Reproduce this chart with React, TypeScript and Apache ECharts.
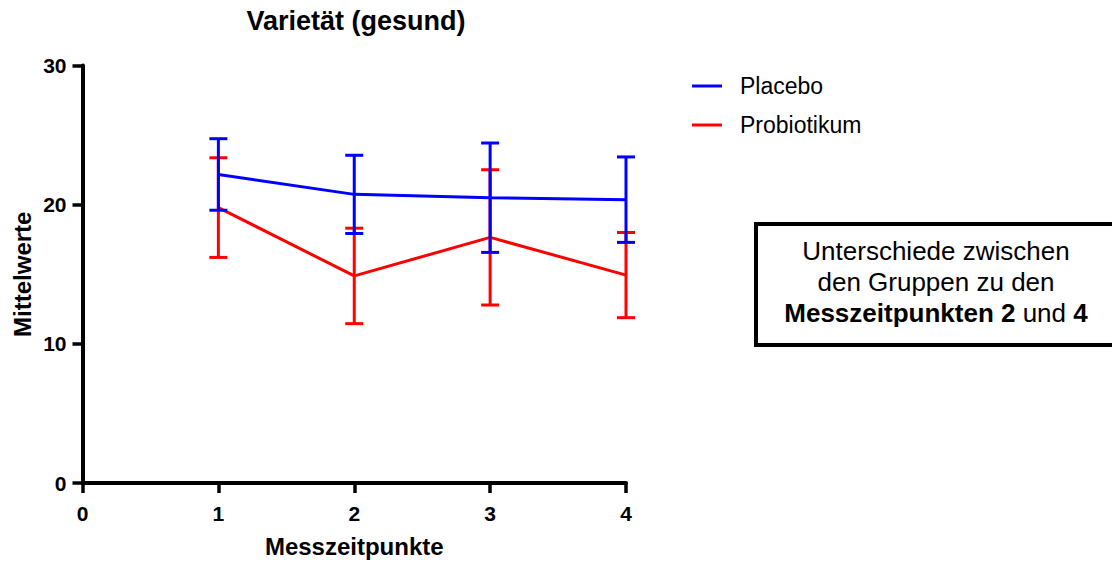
import React, { useEffect, useRef } from "react";
import * as echarts from "echarts";

const titleText = "Varietät (gesund)";
const xAxisName = "Messzeitpunkte";
const yAxisName = "Mittelwerte";
const timepoints = [1, 2, 3, 4];
const placeboMean = [22.17, 20.74, 20.5, 20.36];
const placeboSD = [2.57, 2.81, 3.93, 3.07];
const probioMean = [19.79, 14.88, 17.65, 14.94];
const probioSD = [3.58, 3.43, 4.86, 3.06];
const seriesNames = ["Placebo", "Probiotikum"];
const seriesColors = ["#0000FF", "#FF0000"];
const xTicks = { min: 0, max: 4, interval: 1 };
const yTicks = { min: 0, max: 30, interval: 10 };
const noteLines = ["Unterschiede zwischen", "den Gruppen zu den", "{b|Messzeitpunkten 2} und {b|4}"];

const FONT = "'Liberation Sans', Arial, Helvetica, sans-serif";

function errorSeries(name: string, mean: number[], sd: number[], color: string, z: number) {
  return {
    type: "custom",
    name: name + " SD",
    z,
    data: timepoints.map((t, i) => [t, mean[i] - sd[i], mean[i] + sd[i]]),
    encode: { x: 0, y: [1, 2] },
    renderItem: (params: any, api: any) => {
      const x = api.value(0);
      const lo = api.coord([x, api.value(1)]);
      const hi = api.coord([x, api.value(2)]);
      const w = 9;
      const st = { stroke: color, lineWidth: 3, fill: "none" };
      return {
        type: "group",
        children: [
          { type: "line", shape: { x1: hi[0], y1: hi[1], x2: lo[0], y2: lo[1] }, style: st },
          { type: "line", shape: { x1: hi[0] - w, y1: hi[1], x2: hi[0] + w, y2: hi[1] }, style: st },
          { type: "line", shape: { x1: lo[0] - w, y1: lo[1], x2: lo[0] + w, y2: lo[1] }, style: st },
        ],
      };
    },
  };
}

export default function App() {
  const ref = useRef<HTMLDivElement>(null);
  useEffect(() => {
    if (!ref.current) return;
    const chart = echarts.init(ref.current, null, { renderer: "svg" });
    const axisCommon = {
      axisLine: { show: true, lineStyle: { color: "#000", width: 4 } },
      axisTick: { show: true, length: 10, lineStyle: { color: "#000", width: 3.5 } },
      splitLine: { show: false },
      nameLocation: "middle",
      nameTextStyle: { fontFamily: FONT, fontWeight: "bold", fontSize: 24, color: "#000" },
    };
    chart.setOption({
      animation: false,
      backgroundColor: "#fff",
      graphic: [
        {
          type: "text",
          x: 356,
          y: 21,
          style: {
            text: titleText,
            fontFamily: FONT,
            fontWeight: "bold",
            fontSize: 27,
            fill: "#000",
            align: "center",
            verticalAlign: "middle",
          },
        },
        {
          type: "rect",
          shape: { x: 756, y: 224, width: 400, height: 121 },
          style: { fill: "#fff", stroke: "#000", lineWidth: 4 },
        },
        {
          type: "text",
          x: 936,
          y: 282,
          style: {
            text: noteLines.join("\n"),
            fontFamily: FONT,
            fontSize: 26,
            lineHeight: 31,
            fill: "#000",
            align: "center",
            verticalAlign: "middle",
            rich: {
              b: { fontFamily: FONT, fontSize: 26, lineHeight: 31, fontWeight: "bold", fill: "#000" },
            },
          },
        },
      ],
      legend: {
        data: seriesNames,
        orient: "vertical",
        left: 692,
        top: 74.5,
        padding: 0,
        icon: "rect",
        itemWidth: 30,
        itemHeight: 3,
        itemGap: 16,
        textStyle: { fontFamily: FONT, fontSize: 23, color: "#000", padding: [0, 0, 0, 13] },
      },
      grid: { left: 82.5, right: 486, top: 65.5, bottom: 77.5, containLabel: false },
      xAxis: {
        type: "value",
        ...xTicks,
        ...axisCommon,
        name: xAxisName,
        nameGap: 51,
        axisLabel: { margin: 20, fontFamily: FONT, fontWeight: "bold", fontSize: 21, color: "#000" },
      },
      yAxis: {
        type: "value",
        ...yTicks,
        ...axisCommon,
        name: yAxisName,
        nameGap: 48,
        axisLabel: { margin: 16, fontFamily: FONT, fontWeight: "bold", fontSize: 21, color: "#000" },
      },
      series: [
        {
          type: "line",
          name: seriesNames[0],
          z: 4,
          data: timepoints.map((t, i) => [t, placeboMean[i]]),
          showSymbol: false,
          symbol: "none",
          color: seriesColors[0],
          lineStyle: { color: seriesColors[0], width: 3 },
        },
        errorSeries(seriesNames[0], placeboMean, placeboSD, seriesColors[0], 4),
        {
          type: "line",
          name: seriesNames[1],
          z: 2,
          data: timepoints.map((t, i) => [t, probioMean[i]]),
          showSymbol: false,
          symbol: "none",
          color: seriesColors[1],
          lineStyle: { color: seriesColors[1], width: 3 },
        },
        errorSeries(seriesNames[1], probioMean, probioSD, seriesColors[1], 2),
      ],
    });
    return () => chart.dispose();
  }, []);
  return (
    <div
      ref={ref}
      style={{ position: "absolute", left: 0, top: 0, width: 1112, height: 563, background: "#fff" }}
    />
  );
}
